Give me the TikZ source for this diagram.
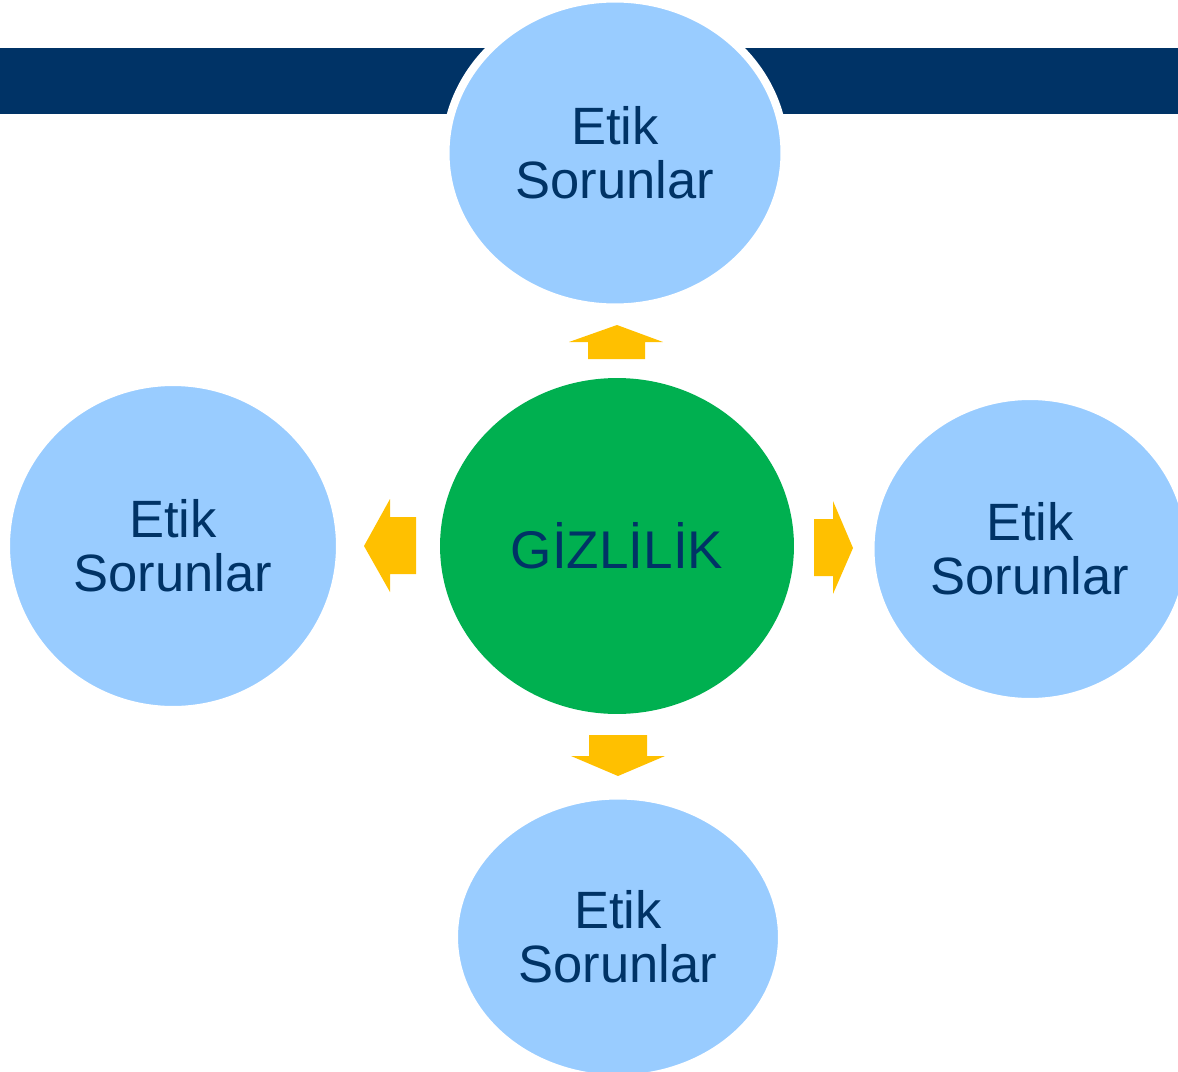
\documentclass[tikz,border=0pt]{standalone}
\usepackage{fontspec}
\setmainfont{Liberation Sans}
\usetikzlibrary{shapes.geometric}
\definecolor{navy}{HTML}{003366}
\definecolor{lblue}{HTML}{99CCFF}
\definecolor{grn}{HTML}{00B050}
\definecolor{yel}{HTML}{FFC000}
\begin{document}
\begin{tikzpicture}[x=0.02cm,y=-0.02cm,
  bub/.style={ellipse, fill=lblue, draw=white, line width=0.16cm, inner sep=0pt,
    align=center, text=navy, font=\fontsize{29.9}{30.8}\selectfont},
  core/.style={ellipse, fill=grn, inner sep=0pt, text=navy,
    font=\fontsize{30.2}{31}\selectfont},
  blk/.style={fill=yel, draw=none}]
\clip (0,0) rectangle (1178,1072);
\fill[navy] (0,48) rectangle (1178,114);
\node[bub, minimum width=6.78cm, minimum height=6.18cm] (top) at (615,153) {Etik\\Sorunlar};
\node[bub, minimum width=6.68cm, minimum height=6.56cm] (left) at (173,546) {Etik\\Sorunlar};
\node[bub, minimum width=6.38cm, minimum height=6.12cm] (right) at (1030,549) {Etik\\Sorunlar};
\node[bub, minimum width=6.56cm, minimum height=5.66cm] (bottom) at (618,937) {Etik\\Sorunlar};
\node[core, minimum width=7.08cm, minimum height=6.72cm] (c) at (617,546) {GİZLİLİK};
% block arrows
\fill[blk] (588,359) -- (588,342) -- (569,342) -- (617,325) -- (663,342) -- (645,342) -- (645,359) -- cycle;
\fill[blk] (589,735) -- (647,735) -- (647,756) -- (665,756) -- (618,776) -- (571,756) -- (589,756) -- cycle;
\fill[blk] (416,517) -- (390,517) -- (390,499) -- (364,546) -- (390,592) -- (390,574) -- (416,574) -- cycle;
\fill[blk] (814,519) -- (833,519) -- (833,501) -- (853,548) -- (833,594) -- (833,576) -- (814,576) -- cycle;
\end{tikzpicture}
\end{document}
